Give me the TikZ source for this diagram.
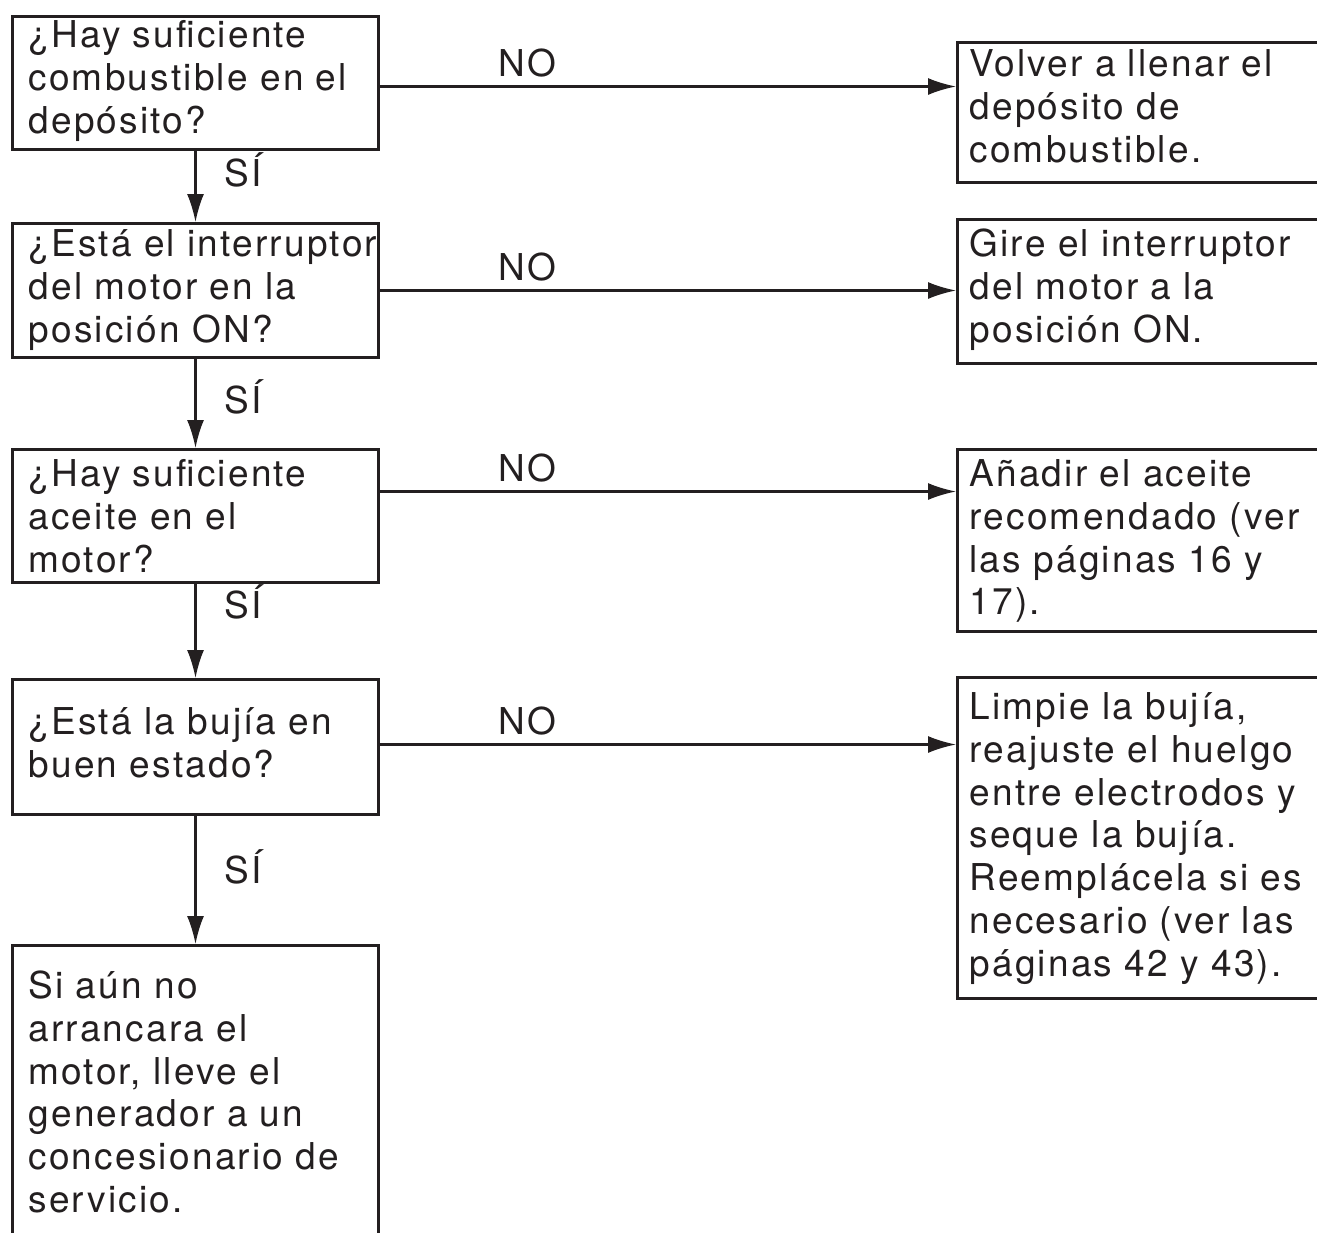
\documentclass[tikz,border=0pt]{standalone}
\usepackage{fontspec}
\setmainfont{TeX Gyre Heros}[LetterSpace=6,WordSpace=1.5]
\usetikzlibrary{arrows.meta}
\definecolor{tinta}{HTML}{231F20}

\begin{document}
\begin{tikzpicture}[x=0.5pt,y=-0.5pt,>={Latex[length=14pt,width=8.5pt]},
  caja/.style={draw=tinta,line width=1.5pt,anchor=north west,inner ysep=0pt,align=left,
    text=tinta,font=\fontsize{18.5pt}{21.4pt}\selectfont,
    execute at begin node={\hyphenpenalty=10000\rightskip=0pt plus 1fil minus 1000pt}},
  pregunta/.style={caja,inner xsep=8pt,minimum width=183pt,text width=167pt},
  accion/.style={caja,inner xsep=6pt,minimum width=200pt,text width=188pt},
  flecha/.style={->,draw=tinta,line width=1.1pt},
  etiqueta/.style={inner sep=0pt,text=tinta,font=\fontsize{18.5pt}{21.4pt}\selectfont}]
  \useasboundingbox (0,0) rectangle (1317,1232);
  \clip (0,0) rectangle (1317,1232);

  % Preguntas (columna izquierda)
  \node[pregunta,text height=15.5pt,text depth=51pt] (p1) at (11,15) {¿Hay suficiente\\combustible en el\\depósito?};
  \node[pregunta,text height=16.5pt,text depth=50.5pt] (p2) at (11,222) {¿Está el interruptor\\del motor en la\\posición ON?};
  \node[pregunta,text height=18.5pt,text depth=48pt] (p3) at (11,448) {¿Hay suficiente\\aceite en el\\motor?};
  \node[pregunta,text height=27.5pt,text depth=40pt] (p4) at (11,678) {¿Está la bujía en\\buen estado?};
  \node[pregunta,text height=26.5pt,text depth=150pt] (p5) at (11,944) {Si aún no\\arrancara el\\motor, lleve el\\generador a un\\concesionario de\\servicio.};

  % Acciones (columna derecha)
  \node[accion,text height=17pt,text depth=53pt] (r1) at (956,41) {Volver a llenar el\\depósito de\\combustible.};
  \node[accion,text height=18.5pt,text depth=53.5pt] (r2) at (956,218) {Gire el interruptor\\del motor a la\\posición ON.};
  \node[accion,text height=18.5pt,text depth=72.5pt] (r3) at (956,448) {Añadir el aceite\\recomendado (ver\\las páginas 16 y\\17).};
  \node[accion,text height=21pt,text depth=139.5pt] (r4) at (956,676) {Limpie la bujía,\\reajuste el huelgo\\entre electrodos y\\seque la bujía.\\Reemplácela si es\\necesario (ver las\\páginas 42 y 43).};

  % SÍ
  \draw[flecha] (p1) -- node[etiqueta,pos=0.5,anchor=base west,xshift=14pt] {SÍ} (p2);
  \draw[flecha] (p2) -- node[etiqueta,pos=0.61,anchor=base west,xshift=14pt] {SÍ} (p3);
  \draw[flecha] (p3) -- node[etiqueta,pos=0.37,anchor=base west,xshift=14pt] {SÍ} (p4);
  \draw[flecha] (p4) -- node[etiqueta,pos=0.53,anchor=base west,xshift=14pt] {SÍ} (p5);

  % NO
  \draw[flecha] ([yshift=-1.75pt]p1.east) -- node[etiqueta,pos=0.256,anchor=base,yshift=5pt] {NO} ([yshift=-1.75pt]p1.east -| r1.west);
  \draw[flecha] (p2.east) -- node[etiqueta,pos=0.256,anchor=base,yshift=5pt] {NO} (p2.east -| r2.west);
  \draw[flecha] ([yshift=12.25pt]p3.east) -- node[etiqueta,pos=0.256,anchor=base,yshift=5pt] {NO} ([yshift=12.25pt]p3.east -| r3.west);
  \draw[flecha] ([yshift=1.25pt]p4.east) -- node[etiqueta,pos=0.256,anchor=base,yshift=5pt] {NO} ([yshift=1.25pt]p4.east -| r4.west);
\end{tikzpicture}
\end{document}
